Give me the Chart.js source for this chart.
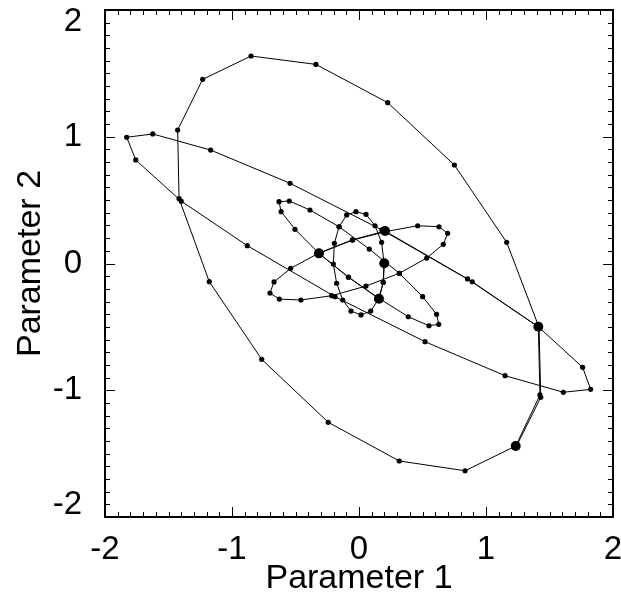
<!DOCTYPE html>
<html>
<head>
  <title>Parameter 1 vs Parameter 2</title>
  <script src="https://cdn.jsdelivr.net/npm/chart.js"></script>
  <style>
    body {
      margin: 0;
      padding: 0;
      background: #fff;
    }
    #wrap {
      width: 621px;
      height: 602px;
    }
  </style>
</head>
<body>
  <div id="wrap"><canvas id="trajChart" width="621" height="602"></canvas></div>
  <script>
    // Five elliptical trajectories.
    // Each one runs a bit more than one full turn, so its first points come round again.
    const outerX = [1.412, 1.425, 1.234, 0.835, 0.317, -0.242, -0.766, -1.179, -1.417, -1.428, -1.231, -0.850, -0.339, 0.226, 0.751, 1.163, 1.418, 1.431, 1.238];
    const outerY = [-0.499, -1.037, -1.440, -1.635, -1.558, -1.253, -0.756, -0.143, 0.512, 1.053, 1.453, 1.637, 1.571, 1.269, 0.777, 0.167, -0.505, -1.056, -1.445];

    const longX = [0.205, 0.855, 1.412, 1.761, 1.824, 1.609, 1.150, 0.520, -0.189, -0.880, -1.400, -1.758, -1.829, -1.624, -1.168, -0.543, 0.180, 0.892, 1.415];
    const longY = [0.256, -0.122, -0.499, -0.819, -0.993, -1.016, -0.885, -0.617, -0.262, 0.141, 0.492, 0.817, 0.996, 1.022, 0.895, 0.633, 0.265, -0.144, -0.502];

    const petalBX = [-0.315, -0.050, 0.212, 0.462, 0.630, 0.698, 0.664, 0.533, 0.318, 0.055, -0.215, -0.457, -0.627, -0.701, -0.669, -0.538, -0.313, -0.052, 0.205];
    const petalBY = [0.080, 0.185, 0.252, 0.298, 0.290, 0.238, 0.151, 0.043, -0.077, -0.178, -0.254, -0.288, -0.281, -0.233, -0.145, -0.038, 0.083, 0.187, 0.256];

    const petalAX = [0.157, -0.084, -0.315, -0.504, -0.613, -0.630, -0.549, -0.386, -0.157, 0.081, 0.318, 0.501, 0.611, 0.628, 0.551, 0.388, 0.159, -0.082, -0.313];
    const petalAY = [-0.278, -0.107, 0.080, 0.270, 0.409, 0.488, 0.493, 0.422, 0.290, 0.114, -0.077, -0.262, -0.401, -0.480, -0.491, -0.420, -0.276, -0.109, 0.078];

    const petalCX = [0.199, 0.192, 0.157, 0.092, 0.016, -0.063, -0.128, -0.176, -0.202, -0.194, -0.157, -0.097, -0.024, 0.055, 0.126, 0.178, 0.197, 0.190, 0.155];
    const petalCY = [0.002, -0.148, -0.278, -0.375, -0.406, -0.375, -0.288, -0.156, -0.004, 0.159, 0.290, 0.383, 0.409, 0.388, 0.298, 0.167, 0.004, -0.150, -0.280];

    // big dots: where one trajectory hands over to the next
    const sampleX = [1.234, 1.412, 0.205, -0.315, 0.157, 0.199];
    const sampleY = [-1.440, -0.499, 0.256, 0.080, -0.278, 0.002];

    const xTicks = [-2, -1, 0, 1, 2];
    const xTickLabels = ['-2', '-1', '0', '1', '2'];
    const yTicks = [-2, -1, 0, 1, 2];
    const yTickLabels = ['-2', '-1', '0', '1', '2'];

    const FONT = "'Liberation Sans', Arial, Helvetica, sans-serif";

    function toPoints(xs, ys) {
      return xs.map((x, i) => ({x: x, y: ys[i]}));
    }

    function trajectory(label, xs, ys) {
      return {
        label: label,
        data: toPoints(xs, ys),
        showLine: true,
        borderColor: '#000',
        borderWidth: 1,
        pointRadius: 2.6,
        pointHoverRadius: 2.6,
        pointBackgroundColor: '#000',
        pointBorderWidth: 0
      };
    }

    // box round the plot with inward ticks on all four sides (minor every 0.1)
    const boxTicks = {
      id: 'boxTicks',
      afterDraw(chart) {
        const ctx = chart.ctx;
        const a = chart.chartArea;
        const xs = chart.scales.x;
        const ys = chart.scales.y;
        ctx.save();
        ctx.strokeStyle = '#000';
        ctx.lineWidth = 1;
        ctx.beginPath();
        for (let i = -20; i <= 20; i++) {
          const len = (i % 10 === 0) ? 10 : 5;
          const px = Math.round(xs.getPixelForValue(i / 10)) + 0.5;
          ctx.moveTo(px, a.bottom); ctx.lineTo(px, a.bottom - len);
          ctx.moveTo(px, a.top); ctx.lineTo(px, a.top + len);
          const py = Math.round(ys.getPixelForValue(i / 10)) + 0.5;
          ctx.moveTo(a.left, py); ctx.lineTo(a.left + len, py);
          ctx.moveTo(a.right, py); ctx.lineTo(a.right - len, py);
        }
        ctx.stroke();
        ctx.lineWidth = 2;
        ctx.strokeRect(a.left, a.top, a.right - a.left, a.bottom - a.top);
        ctx.restore();
      }
    };

    const datasets = [
      trajectory('outer', outerX, outerY),
      trajectory('long', longX, longY),
      trajectory('petal B', petalBX, petalBY),
      trajectory('petal A', petalAX, petalAY),
      trajectory('petal C', petalCX, petalCY),
      {
        label: 'samples',
        data: toPoints(sampleX, sampleY),
        showLine: false,
        pointRadius: 5,
        pointHoverRadius: 5,
        pointBackgroundColor: '#000',
        pointBorderWidth: 0
      }
    ];

    const ctx = document.getElementById('trajChart').getContext('2d');
    new Chart(ctx, {
      type: 'scatter',
      data: { datasets: datasets },
      options: {
        responsive: false,
        animation: false,
        layout: { padding: { top: 10, right: 8, left: 0, bottom: 0 } },
        plugins: {
          legend: { display: false },
          tooltip: { enabled: false }
        },
        scales: {
          x: {
            type: 'linear',
            min: -2,
            max: 2,
            afterBuildTicks: scale => { scale.ticks = xTicks.map(v => ({value: v})); },
            // fixed box: no extra room for the end labels
            afterFit: scale => {
              scale.height = 85;
              scale.paddingLeft = 0;
              scale.paddingRight = 0;
            },
            grid: { display: false },
            border: { display: false },
            ticks: {
              color: '#000',
              padding: 5,
              maxRotation: 0,
              font: { family: FONT, size: 33 },
              callback: v => xTickLabels[xTicks.indexOf(v)]
            },
            title: {
              display: true,
              text: 'Parameter 1',
              color: '#000',
              font: { family: FONT, size: 34 },
              padding: { top: 0, bottom: 3 }
            }
          },
          y: {
            type: 'linear',
            min: -2,
            max: 2,
            afterBuildTicks: scale => { scale.ticks = yTicks.map(v => ({value: v})); },
            afterFit: scale => {
              scale.width = 105;
              scale.paddingTop = 0;
              scale.paddingBottom = 0;
            },
            grid: { display: false },
            border: { display: false },
            ticks: {
              color: '#000',
              padding: 15,
              font: { family: FONT, size: 33, lineHeight: 0.75 },
              // end labels sit inside the box, so push them off the corners
              callback: v => {
                const t = yTickLabels[yTicks.indexOf(v)];
                if (v === 2) return ['', t];
                if (v === -2) return [t, ''];
                return t;
              }
            },
            title: {
              display: true,
              text: 'Parameter 2',
              color: '#000',
              font: { family: FONT, size: 34 },
              padding: { top: 10, bottom: 0 }
            }
          }
        }
      },
      plugins: [boxTicks]
    });
  </script>
</body>
</html>
